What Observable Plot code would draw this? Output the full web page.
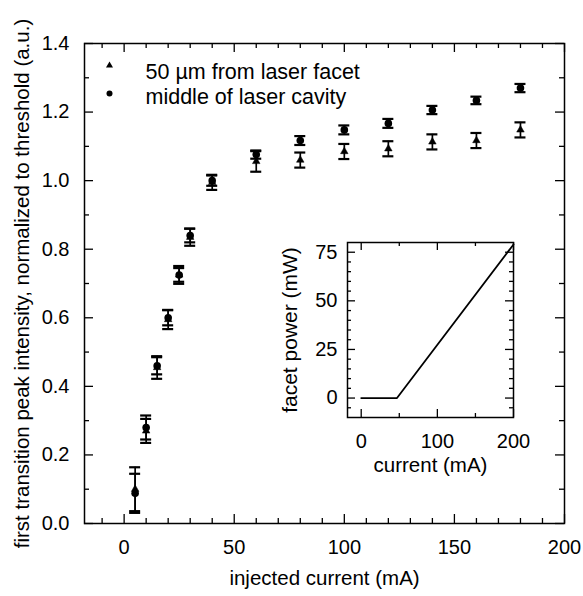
<!DOCTYPE html>
<html><head><meta charset="utf-8">
<script src="https://cdn.jsdelivr.net/npm/d3@7"></script>
<script src="https://cdn.jsdelivr.net/npm/@observablehq/plot@0.6"></script>
<style>
body{margin:0;background:#fff;}
#wrap{position:relative;width:583px;height:596px;}
#wrap svg{overflow:visible;}
#inset{position:absolute;left:277px;top:237px;}
</style></head><body><div id="wrap"><div id="main"></div><div id="inset"></div></div>
<script>
// ---- main chart data ----
const current = [5, 10, 15, 20, 25, 30, 40, 60, 80, 100, 120, 140, 160, 180];
const cavity = [0.088, 0.28, 0.46, 0.60, 0.725, 0.84, 1.00, 1.076, 1.117, 1.148, 1.167, 1.206, 1.234, 1.27];
const cavityErr = [0.057, 0.035, 0.025, 0.022, 0.02, 0.02, 0.015, 0.012, 0.013, 0.013, 0.013, 0.012, 0.011, 0.012];
const facet = [0.1, 0.27, 0.455, 0.595, 0.725, 0.835, 0.995, 1.056, 1.06, 1.085, 1.093, 1.113, 1.117, 1.148];
const facetErr = [0.064, 0.035, 0.033, 0.028, 0.026, 0.025, 0.022, 0.03, 0.022, 0.022, 0.022, 0.022, 0.022, 0.022];
const seriesLabels = ["50 µm from laser facet", "middle of laser cavity"];
const xTitle = "injected current (mA)";
const yTitle = "first transition peak intensity, normalized to threshold (a.u.)";
const xMajor = [0, 50, 100, 150, 200];
const xMinor = [-10, 10, 20, 30, 40, 60, 70, 80, 90, 110, 120, 130, 140, 160, 170, 180, 190];
const yMajor = [0, 0.2, 0.4, 0.6, 0.8, 1.0, 1.2, 1.4];
const yMinor = [0.1, 0.3, 0.5, 0.7, 0.9, 1.1, 1.3];

// ---- inset data ----
const insetCurrent = [0, 47, 200];
const insetPower = [0, 0, 79];
const insetXTitle = "current (mA)";
const insetYTitle = "facet power (mW)";
const insetXMajor = [0, 100, 200];
const insetXMinor = [50, 150];
const insetYMajor = [0, 25, 50, 75];
const insetYMinor = [-5, 5, 10, 15, 20, 30, 35, 40, 45, 55, 60, 65, 70];

const font = "'Liberation Sans', Arial, Helvetica, sans-serif";
const W = 583, H = 596, mL = 84, mR = 19, mT = 43, mB = 73;
const pW = W - mL - mR, pH = H - mT - mB;

const cavRows = current.map((x, i) => ({x, y: cavity[i], lo: cavity[i] - cavityErr[i], hi: cavity[i] + cavityErr[i]}));
const facRows = current.map((x, i) => ({x, y: facet[i], lo: facet[i] - facetErr[i], hi: facet[i] + facetErr[i]}));

function errMarks(rows) {
  return [
    Plot.ruleX(rows, {x: "x", y1: "lo", y2: "hi", stroke: "#000", strokeWidth: 1.7}),
    Plot.ruleY(rows, {y: "lo", x1: "x", x2: "x", insetLeft: -5.5, insetRight: -5.5, stroke: "#000", strokeWidth: 2.2}),
    Plot.ruleY(rows, {y: "hi", x1: "x", x2: "x", insetLeft: -5.5, insetRight: -5.5, stroke: "#000", strokeWidth: 2.2})
  ];
}

function tickMarks(xMaj, xMin, yMaj, yMin, w, h, big, small) {
  const o = {stroke: "#000", strokeWidth: 1.3};
  return [
    Plot.ruleX(xMaj, {...o, insetTop: h - big}),
    Plot.ruleX(xMaj, {...o, insetBottom: h - big}),
    Plot.ruleX(xMin, {...o, insetTop: h - small}),
    Plot.ruleX(xMin, {...o, insetBottom: h - small}),
    Plot.ruleY(yMaj, {...o, insetRight: w - big}),
    Plot.ruleY(yMaj, {...o, insetLeft: w - big}),
    Plot.ruleY(yMin, {...o, insetRight: w - small}),
    Plot.ruleY(yMin, {...o, insetLeft: w - small})
  ];
}

const main = Plot.plot({
  width: W, height: H, marginLeft: mL, marginRight: mR, marginTop: mT, marginBottom: mB,
  style: {fontFamily: font, fontSize: "20px", background: "transparent", color: "#000"},
  x: {domain: [-18, 200]},
  y: {domain: [0, 1.4]},
  marks: [
    ...tickMarks(xMajor, xMinor, yMajor, yMinor, pW, pH, 9, 5),
    Plot.axisX({ticks: xMajor, tickSize: 0, tickPadding: 16, fontSize: 20, label: null}),
    Plot.axisY({ticks: yMajor, tickSize: 0, tickPadding: 15, fontSize: 20, tickFormat: d3.format(".1f"), label: null}),
    Plot.text([xTitle], {text: d => d, frameAnchor: "bottom", dy: 55, textAnchor: "middle", lineAnchor: "middle", fontSize: 20.5, fill: "#000"}),
    Plot.text([yTitle], {text: d => d, frameAnchor: "left", dx: -62, rotate: -90, textAnchor: "middle", lineAnchor: "middle", fontSize: 20.5, fill: "#000"}),
    ...errMarks(facRows),
    ...errMarks(cavRows),
    Plot.dot(facRows, {x: "x", y: "y", symbol: "triangle", r: 2.8, fill: "#000", stroke: "#000", strokeWidth: 0.5}),
    Plot.dot(cavRows, {x: "x", y: "y", symbol: "circle", r: 3.8, fill: "#000"}),
    // legend
    Plot.dot([seriesLabels[0]], {frameAnchor: "top-left", dx: 25, dy: 22, symbol: "triangle", r: 2.6, fill: "#000"}),
    Plot.dot([seriesLabels[1]], {frameAnchor: "top-left", dx: 25, dy: 50, symbol: "circle", r: 3, fill: "#000"}),
    Plot.text([seriesLabels[0]], {text: d => d, frameAnchor: "top-left", dx: 61, dy: 28.5, textAnchor: "start", lineAnchor: "middle", fontSize: 21.5, fill: "#000"}),
    Plot.text([seriesLabels[1]], {text: d => d, frameAnchor: "top-left", dx: 61, dy: 54, textAnchor: "start", lineAnchor: "middle", fontSize: 21.5, fill: "#000"}),
    Plot.frame({stroke: "#000", strokeWidth: 1.5})
  ]
});
document.getElementById("main").appendChild(main);

// ---- inset ----
const iL = 70, iR = 10, iT = 5, iB = 60, iW = 166, iH = 175;
const insetRows = insetCurrent.map((x, i) => ({x, y: insetPower[i]}));
const inset = Plot.plot({
  width: iL + iW + iR, height: iT + iH + iB, marginLeft: iL, marginRight: iR, marginTop: iT, marginBottom: iB,
  style: {fontFamily: font, fontSize: "20px", background: "transparent", color: "#000"},
  x: {domain: [-18, 200]},
  y: {domain: [-10, 80]},
  marks: [
    ...tickMarks(insetXMajor, insetXMinor, insetYMajor, insetYMinor, iW, iH, 8, 4),
    Plot.axisX({ticks: insetXMajor, tickSize: 0, tickPadding: 16, fontSize: 20, label: null}),
    Plot.axisY({ticks: insetYMajor, tickSize: 0, tickPadding: 10, fontSize: 20, label: null}),
    Plot.text([insetXTitle], {text: d => d, frameAnchor: "bottom", dy: 48, textAnchor: "middle", lineAnchor: "middle", fontSize: 20.5, fill: "#000"}),
    Plot.text([insetYTitle], {text: d => d, frameAnchor: "left", dx: -57, rotate: -90, textAnchor: "middle", lineAnchor: "middle", fontSize: 21, fill: "#000"}),
    Plot.line(insetRows, {x: "x", y: "y", stroke: "#000", strokeWidth: 1.8}),
    Plot.frame({stroke: "#000", strokeWidth: 1.5})
  ]
});
document.getElementById("inset").appendChild(inset);
</script></body></html>
